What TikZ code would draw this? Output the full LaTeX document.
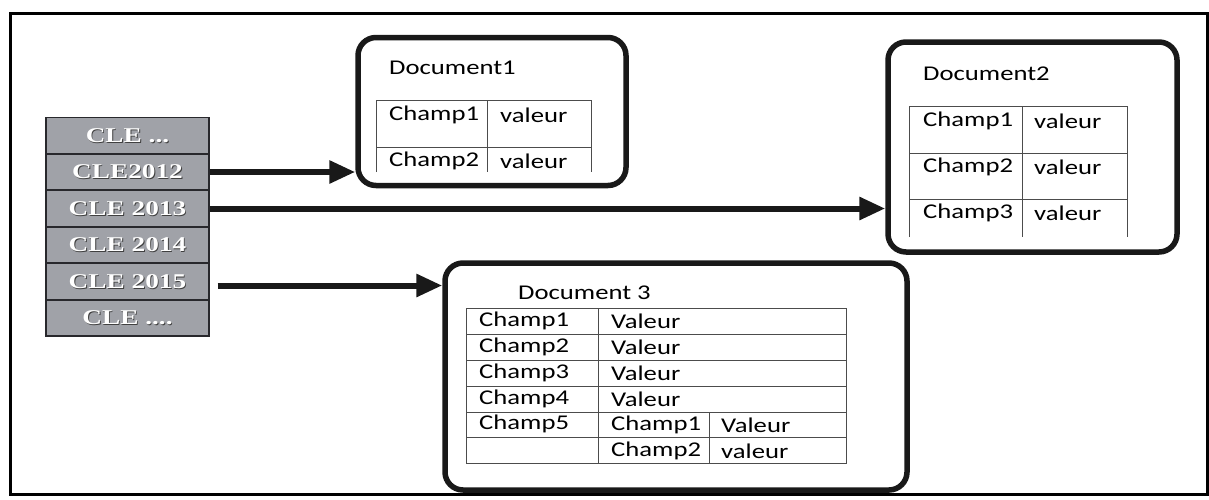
\documentclass[tikz,border=0pt]{standalone}
\usepackage{fontspec}
\usetikzlibrary{arrows.meta}
\newfontfamily\docfont[FakeStretch=1.27]{Carlito}
\newfontfamily\keyfont[FakeStretch=1.3]{Liberation Serif}
\definecolor{keyfill}{RGB}{160,162,168}
\definecolor{keyline}{RGB}{40,40,44}
\definecolor{ink}{RGB}{25,25,25}
\begin{document}
\begin{tikzpicture}[x=1pt,y=-1pt,
  keybox/.style={draw=keyline,line width=1.2pt,fill=keyfill,minimum width=163pt,
    minimum height=36pt,inner sep=0pt},
  keytext/.style={inner sep=0pt,font=\keyfont\bfseries\fontsize{21}{23}\selectfont},
  docbox/.style={draw=ink,line width=5.5pt,rounded corners=18pt,fill=white,inner sep=0pt},
  txt/.style={anchor=west,inner sep=0pt,font=\docfont\fontsize{21}{25}\selectfont,text=black},
  grid/.style={line width=1pt,draw=black!70},
  arr/.style={line width=6pt,draw=ink,-{Triangle[length=26pt,width=22pt]}},
  frame/.style={line width=3pt,draw=black}]
\useasboundingbox (0,0) rectangle (1209,499);
% outer frame
\draw[frame] (10,13) rectangle (1207,494);

% key column
\foreach \n/\y/\t in {1/135.5/{CLE ...},2/172/{CLE2012},3/208.5/{CLE 2013},
                      4/245/{CLE 2014},5/281.5/{CLE 2015},6/318/{CLE ....}}{
  \node[keybox] (k\n) at (127.5,\y) {};
  \node[keytext,text=black!75] at ([shift={(0.9,0.9)}]k\n.center) {\t};
  \node[keytext,text=white] (kt\n) at (k\n.center) {\t};
}

% document boxes
\node[docbox,minimum width=268pt,minimum height=148pt] (d1) at (492,111.5) {};
\node[docbox,minimum width=289pt,minimum height=210pt] (d2) at (1032.5,147) {};
\node[docbox,minimum width=462pt,minimum height=227pt] (d3) at (676,376.5) {};

% Document1
\node[txt] (t1) at (389,68) {Document1};
\draw[grid] (376,172) -- (376,100) -- (591,100) -- (591,172);
\draw[grid] (376,147) -- (591,147);
\draw[grid] (487,100) -- (487,172);
\node[txt] (a11) at (389,115) {Champ1};
\node[txt] (a12) at (500,115) {valeur};
\node[txt] (a21) at (389,161) {Champ2};
\node[txt] (a22) at (500,161) {valeur};

% Document2
\node[txt] (t2) at (923,74) {Document2};
\draw[grid] (909,237) -- (909,106) -- (1127,106) -- (1127,237);
\draw[grid] (909,153) -- (1127,153);
\draw[grid] (909,199) -- (1127,199);
\draw[grid] (1022,106) -- (1022,237);
\foreach \r/\y in {1/121,2/167,3/213}{
  \node[txt] (b\r1) at (923,\y) {Champ\r};
  \node[txt] (b\r2) at (1034,\y) {valeur};
}

% Document 3
\node[txt] (t3) at (518,293) {Document 3};
\draw[grid] (466,308) rectangle (846,463);
\foreach \y in {334,360,386,412,437}{\draw[grid] (466,\y) -- (846,\y);}
\draw[grid] (598,308) -- (598,463);
\draw[grid] (709,412) -- (709,463);
\foreach \r/\y in {1/321,2/347,3/373,4/399}{
  \node[txt] (c\r1) at (479,\y) {Champ\r};
  \node[txt] (c\r2) at (611,\y) {Valeur};
}
\node[txt] (c51) at (479,424) {Champ5};
\node[txt] (c52) at (611,425) {Champ1};
\node[txt] (c53) at (721,425) {Valeur};
\node[txt] (c62) at (611,451) {Champ2};
\node[txt] (c63) at (721,451) {valeur};

% links from keys to documents
\draw[arr] (k2.east) -- (k2.east -| d1.west);
\draw[arr] (k3.east) -- (k3.east -| d2.west);
\draw[arr] ([shift={(8,4)}]k5.east) -- ([shift={(0,4)}]k5.east -| d3.west);
\end{tikzpicture}
\end{document}
